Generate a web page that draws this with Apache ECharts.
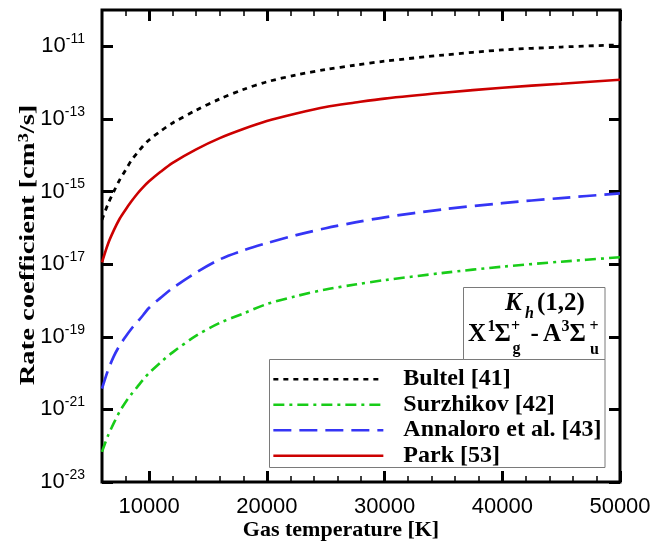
<!DOCTYPE html>
<html>
<head>
<meta charset="utf-8">
<script src="https://cdn.jsdelivr.net/npm/echarts@6/dist/echarts.min.js"></script>
<style>
  html, body { margin: 0; padding: 0; background: #fff; }
  #chart { width: 671px; height: 543px; }
</style>
</head>
<body>
<div id="chart"></div>
<script>
// Gas temperature grid [K]
const temperature = [6000, 6500, 7000, 7500, 8000, 8500, 9000, 9500, 10000, 11000, 12000, 14000, 16000,
                     18000, 20000, 22500, 25000, 27500, 30000, 35000, 40000, 45000, 50000];

// Rate coefficients K_h(1,2) [cm^3/s]
const bultel = [1.66e-16, 4.47e-16, 1.00e-15, 2.09e-15, 3.89e-15, 7.24e-15, 1.17e-14, 1.82e-14, 2.63e-14,
                4.68e-14, 7.76e-14, 1.74e-13, 3.55e-13, 6.46e-13, 1.05e-12, 1.62e-12, 2.29e-12, 3.02e-12,
                3.89e-12, 5.75e-12, 7.94e-12, 9.55e-12, 1.10e-11];
const surzhikov = [6.76e-23, 1.86e-22, 4.17e-22, 8.71e-22, 1.58e-21, 2.63e-21, 4.17e-21, 6.61e-21, 1.00e-20,
                   2.00e-20, 3.72e-20, 1.07e-19, 2.40e-19, 4.37e-19, 7.94e-19, 1.32e-18, 2.00e-18, 2.75e-18,
                   3.63e-18, 5.75e-18, 8.51e-18, 1.17e-17, 1.55e-17];
const annaloro = [3.72e-21, 1.17e-20, 2.88e-20, 5.75e-20, 1.00e-19, 1.66e-19, 2.57e-19, 3.98e-19, 6.31e-19,
                  1.20e-18, 2.19e-18, 5.89e-18, 1.35e-17, 2.40e-17, 3.80e-17, 6.31e-17, 9.77e-17, 1.41e-16,
                  1.95e-16, 3.24e-16, 4.79e-16, 6.61e-16, 8.91e-16];
const park = [1.12e-17, 3.55e-17, 8.51e-17, 1.78e-16, 3.16e-16, 5.37e-16, 8.71e-16, 1.32e-15, 1.91e-15,
              3.55e-15, 6.17e-15, 1.45e-14, 2.95e-14, 5.25e-14, 8.71e-14, 1.41e-13, 2.14e-13, 2.82e-13,
              3.63e-13, 5.25e-13, 7.24e-13, 9.33e-13, 1.20e-12];

const seriesNames = ['Bultel [41]', 'Surzhikov [42]', 'Annaloro et al. [43]', 'Park [53]'];

// Axis ticks
const xMajorTicks = [10000, 20000, 30000, 40000, 50000];
const xMinorTicks = [8000, 12000, 14000, 16000, 18000, 22000, 24000, 26000, 28000,
                     32000, 34000, 36000, 38000, 42000, 44000, 46000, 48000];
const yExponentTicks = [-23, -21, -19, -17, -15, -13, -11];

const SANS = "'Liberation Sans', Arial, sans-serif";
const SERIF = "'Liberation Serif', 'Times New Roman', serif";

// log10 scale is drawn on a linear axis of exponents
const toPoints = vals => temperature.map((t, i) => [t, Math.log10(vals[i])]);

const chart = echarts.init(document.getElementById('chart'), null, { renderer: 'canvas' });

function xAxisDef(position, ticks, len, width, withLabels) {
  return {
    type: 'value', position: position, min: 6000, max: 50000,
    axisLine: { show: false },
    splitLine: { show: false },
    axisTick: { show: true, inside: true, length: len, customValues: ticks,
                lineStyle: { color: '#000', width: width } },
    axisLabel: withLabels ? {
      show: true, customValues: ticks, margin: 14, formatter: v => String(v),
      fontSize: 22, fontFamily: SANS, color: '#000'
    } : { show: false }
  };
}

function yAxisDef(position, withLabels) {
  return {
    type: 'value', position: position, min: -23, max: -10,
    axisLine: { show: false },
    splitLine: { show: false },
    axisTick: { show: true, inside: true, length: 11, customValues: yExponentTicks,
                lineStyle: { color: '#000', width: 3 } },
    axisLabel: withLabels ? {
      show: true, customValues: yExponentTicks, margin: 17,
      formatter: v => '{b|10}{s|' + v + '}',
      rich: {
        b: { fontSize: 22, fontFamily: SANS, color: '#000', lineHeight: 28 },
        s: { fontSize: 14, fontFamily: SANS, color: '#000', verticalAlign: 'top', lineHeight: 14 }
      }
    } : { show: false }
  };
}

function lineSeries(name, vals, color, width, dash) {
  return {
    name: name, type: 'line', data: toPoints(vals), z: 2,
    symbol: 'none', smooth: 0.3, clip: true,
    lineStyle: { color: color, width: width, type: dash },
    itemStyle: { color: color },
    emphasis: { disabled: true }
  };
}

function annText(str, x, y, size, italic) {
  return { type: 'text', x: x, y: y, z: 20,
    style: { text: str, fontSize: size, fontWeight: 'bold', fontStyle: italic ? 'italic' : 'normal',
             fontFamily: SERIF, fill: '#000', verticalAlign: 'middle', align: 'left' } };
}

const option = {
  backgroundColor: '#fff',
  animation: false,
  grid: { left: 102, right: 51, top: 10, bottom: 61, show: true,
          borderColor: '#000', borderWidth: 3, backgroundColor: 'transparent' },
  xAxis: [
    xAxisDef('bottom', xMajorTicks, 11, 3, true),
    xAxisDef('bottom', xMinorTicks, 6, 1.5, false),
    xAxisDef('top', xMajorTicks, 11, 3, false),
    xAxisDef('top', xMinorTicks, 6, 1.5, false)
  ],
  yAxis: [ yAxisDef('left', true), yAxisDef('right', false) ],
  legend: {
    orient: 'vertical', left: 272, top: 366.5, itemWidth: 110, itemHeight: 14, itemGap: 0,
    padding: 0, selectedMode: false, z: 10,
    itemStyle: { opacity: 0 },
    lineStyle: { width: 2.7 },
    data: seriesNames,
    formatter: n => '{g| }' + n,
    textStyle: {
      fontSize: 24, fontWeight: 'bold', fontFamily: SERIF, color: '#000', lineHeight: 25.5,
      rich: { g: { width: 15, fontSize: 24, lineHeight: 25.5 } }
    }
  },
  series: [
    lineSeries(seriesNames[0], bultel, '#000000', 2.8, [5, 5]),
    lineSeries(seriesNames[1], surzhikov, '#18cc18', 2.6, [11, 5, 3, 5]),
    lineSeries(seriesNames[2], annaloro, '#3535f5', 2.7, [18, 8]),
    lineSeries(seriesNames[3], park, '#cc0000', 2.6, 'solid')
  ],
  graphic: [
    // legend frame
    { type: 'rect', z: 3, shape: { x: 269.5, y: 359.5, width: 335.5, height: 108 },
      style: { fill: '#fff', stroke: '#7a7a7a', lineWidth: 1 } },
    // transition label frame
    { type: 'rect', z: 3, shape: { x: 463.5, y: 287.5, width: 141.5, height: 72 },
      style: { fill: '#fff', stroke: '#7a7a7a', lineWidth: 1 } },
    annText('K', 505, 304, 25, true),
    annText('h', 525, 314, 16, true),
    annText('(1,2)', 537, 304, 25, false),
    annText('X', 468, 335, 25, false),
    annText('1', 487.5, 327, 16, false),
    annText('\u03A3', 494.5, 335, 25, false),
    annText('+', 511, 327, 16, false),
    annText('g', 512.5, 349, 16, false),
    annText('-', 530.5, 335, 25, false),
    annText('A', 543, 335, 25, false),
    annText('3', 561.5, 327, 16, false),
    annText('\u03A3', 569.5, 335, 25, false),
    annText('+', 589.5, 327, 16, false),
    annText('u', 590, 350, 16, false),
    // axis titles
    { type: 'text', x: 341, y: 530, z: 20,
      style: { text: 'Gas temperature [K]', fontSize: 22, fontWeight: 'bold', fontFamily: SERIF,
               fill: '#000', align: 'center', verticalAlign: 'middle' } },
    { type: 'text', x: 28, y: 245, z: 20, rotation: Math.PI / 2, scaleX: 1.3,
      style: { text: 'Rate coefficient [cm{s|3}/s]', fontSize: 22, fontWeight: 'bold', fontFamily: SERIF,
               fill: '#000', align: 'center', verticalAlign: 'middle',
               rich: { s: { fontSize: 14, fontWeight: 'bold', fontFamily: SERIF, fill: '#000', verticalAlign: 'top', lineHeight: 14 } } } }
  ]
};

chart.setOption(option);
</script>
</body>
</html>
